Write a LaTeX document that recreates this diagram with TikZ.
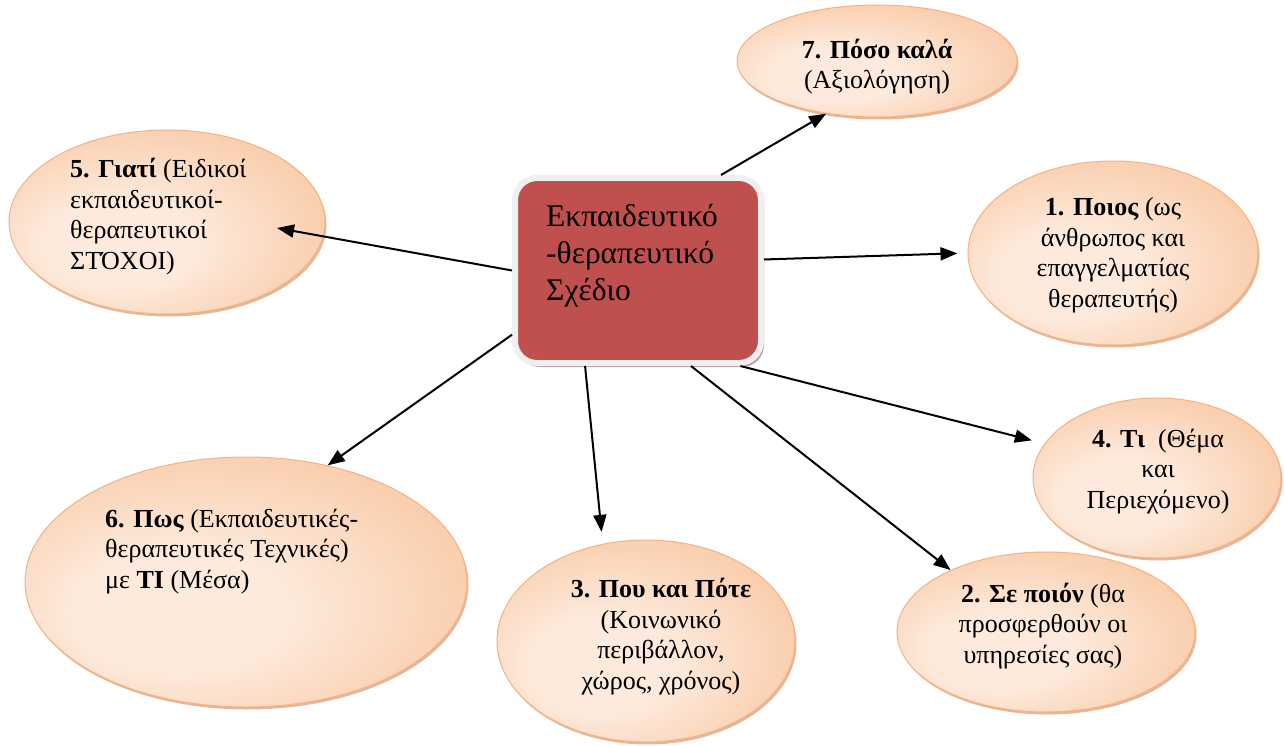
\documentclass[tikz,border=0pt]{standalone}
\usepackage{fontspec}
\setmainfont{Liberation Serif}
\usetikzlibrary{arrows.meta,shadows,shapes.geometric}
\definecolor{peachL}{HTML}{FDEADC}
\definecolor{peachD}{HTML}{F8BE92}
\definecolor{peachB}{HTML}{F4B183}
\definecolor{peachS}{HTML}{D49A72}
\definecolor{boxred}{HTML}{C0504D}
\definecolor{boxshadow}{HTML}{A88584}
\definecolor{ring}{HTML}{F0F0F0}
\pgfdeclareradialshading{peachshade}{\pgfpoint{-10bp}{-8bp}}{color(0bp)=(peachL); color(12bp)=(peachL); color(40bp)=(peachD); color(50bp)=(peachD)}
\tikzset{
  bubble/.style={ellipse, draw=peachB, line width=1pt, shading=peachshade,
    drop shadow={shadow xshift=1.5pt, shadow yshift=-2.5pt, fill=peachS, opacity=0.7},
    inner sep=0pt},
  btext/.style={font=\fontsize{26}{30.5}\selectfont, inner sep=0pt, text=black},
  mainbox/.style={rectangle, rounded corners=22pt, fill=boxred, draw=ring, line width=6pt,
    drop shadow={shadow xshift=3pt, shadow yshift=-4pt, fill=boxshadow, opacity=0.8},
    inner sep=0pt},
  link/.style={line width=2pt, -{Triangle[length=17pt,width=13pt]}},
}
\begin{document}
\begin{tikzpicture}[x=1pt,y=-1pt]
\useasboundingbox (0,0) rectangle (1284,746);
% central box
\node[mainbox, minimum width=246pt, minimum height=185pt] (box) at (638,270.5) {};
\node[anchor=base west, align=left, inner sep=0pt, font=\fontsize{31.5}{37}\selectfont] (boxtext) at (546,300)
  {Εκπαιδευτικό\\-θεραπευτικό\\Σχέδιο};
% ellipses
\node[bubble, minimum width=280pt, minimum height=112pt] (e7) at (877,61) {};
\node[bubble, minimum width=290pt, minimum height=184pt] (e1) at (1113,253) {};
\node[bubble, minimum width=316pt, minimum height=184pt] (e5) at (167,222) {};
\node[bubble, minimum width=248pt, minimum height=160pt] (e4) at (1157,478) {};
\node[bubble, minimum width=298pt, minimum height=160pt] (e2) at (1046,632) {};
\node[bubble, minimum width=298pt, minimum height=202pt] (e3) at (646,641) {};
\node[bubble, minimum width=442pt, minimum height=250pt] (e6) at (246,582) {};
% texts (anchor = baseline of last line)
\node[btext, anchor=base, align=center] (x7) at (877,89) {\textbf{7. Πόσο καλά}\\(Αξιολόγηση)};
\node[btext, anchor=base, align=center] (x1) at (1113,307) {\textbf{1. Ποιος} (ως\\άνθρωπος και\\επαγγελματίας\\θεραπευτής)};
\node[btext, anchor=base west, align=left] (x5) at (70,269) {\textbf{5. Γιατί} (Ειδικοί\\εκπαιδευτικοί-\\θεραπευτικοί\\ΣΤΌΧΟΙ)};
\node[btext, anchor=base, align=center] (x4) at (1158,508) {\textbf{4. Τι}\ \ (Θέμα\\και\\Περιεχόμενο)};
\node[btext, anchor=base, align=center] (x2) at (1043,663) {\textbf{2. Σε ποιόν} (θα\\προσφερθούν οι\\υπηρεσίες σας)};
\node[btext, anchor=base, align=center] (x3) at (661,689) {\textbf{3. Που και Πότε}\\(Κοινωνικό\\περιβάλλον,\\χώρος, χρόνος)};
\node[btext, anchor=base west, align=left] (x6) at (105,588) {\textbf{6. Πως} (Εκπαιδευτικές-\\θεραπευτικές Τεχνικές)\\με \textbf{ΤΙ} (Μέσα)};
% connectors
\coordinate (t5) at (277,228);
\draw[link] (box.49) -- (e7.226);
\draw[link, shorten >=10pt] (box.5) -- (e1.180);
\draw[link] (box.180) -- (t5);
\draw[link] (box.207) -- (e6.55);
\draw[link, shorten >=12pt] (box.241) -- (e3.114);
\draw[link] (box.299) -- (e2.147);
\draw[link, shorten >=13pt] (box.317) -- (e4.163);
\end{tikzpicture}
\end{document}
